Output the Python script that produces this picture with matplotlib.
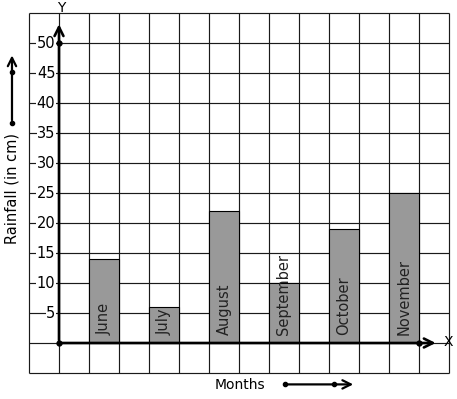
import numpy as np
import matplotlib
matplotlib.use("Agg")
import matplotlib.pyplot as plt

# rainfall data
months = ["June", "July", "August", "September", "October", "November"]
rainfall = [14, 6, 22, 10, 19, 25]
bar_pos = [1, 3, 5, 7, 9, 11]  # grid column where each bar starts
y_ticks = [5, 10, 15, 20, 25, 30, 35, 40, 45, 50]

# pixel layout: px = 59 + 30 * x, py = 343 - 6 * y
fig = plt.figure(figsize=(4.57, 3.99), dpi=100)
ax = fig.add_axes([0, 0, 1, 1])
ax.set_xlim(-59 / 30, (457 - 59) / 30)
ax.set_ylim((343 - 399) / 6, 343 / 6)
ax.axis("off")

# square grid
grid_col = "#1a1a1a"
ax.vlines(np.arange(-1, 14), -5, 55, color=grid_col, lw=0.85, zorder=1)
ax.hlines(np.arange(-5, 60, 5), -1, 13, color=grid_col, lw=0.85, zorder=1)

# bars
ax.bar(bar_pos, rainfall, width=1, align="edge", color="#999999",
       edgecolor="black", lw=0.8, zorder=2)
for x, name in zip(bar_pos, months):
    ax.text(x + 0.5, 1.4, name, rotation=90, ha="center", va="bottom",
            fontsize=10.5, color="#222222", zorder=3)

# axes with arrows
arrow = dict(arrowstyle="->", lw=1.9, color="black", mutation_scale=16)
ax.annotate("", xy=(0, 53.6), xytext=(0, 0), arrowprops=arrow, zorder=4)
ax.annotate("", xy=(12.65, 0), xytext=(0, 0), arrowprops=arrow, zorder=4)
ax.plot([0, 0, 12], [0, 50, 0], "ko", ms=3.5, zorder=5)
ax.text(0.07, 55.9, "Y", ha="center", va="center", fontsize=10)
ax.text(12.98, 0.2, "X", ha="center", va="center", fontsize=10)

# y tick labels
for v in y_ticks:
    ax.text(-0.12, v, str(v), ha="right", va="center", fontsize=10.5,
            zorder=3, bbox=dict(facecolor="white", edgecolor="none", pad=0.3))

# axis titles with little arrows
small = dict(arrowstyle="->", lw=1.6, color="black", mutation_scale=15)
ax.text(-1.567, 25.8, "Rainfall (in cm)", rotation=90, ha="center",
        va="center", fontsize=10.5)
ax.annotate("", xy=(-1.567, 48.4), xytext=(-1.567, 36.67), arrowprops=small,
            annotation_clip=False)
ax.plot([-1.567, -1.567], [36.67, 45.17], "ko", ms=3, clip_on=False)

ax.text(6.03, -7.0, "Months", ha="center", va="center", fontsize=10)
ax.annotate("", xy=(9.9, -6.9), xytext=(7.53, -6.9), arrowprops=small,
            annotation_clip=False)
ax.plot([7.53, 9.17], [-6.9, -6.9], "ko", ms=3, clip_on=False)

fig.savefig("out.png", dpi=100)
